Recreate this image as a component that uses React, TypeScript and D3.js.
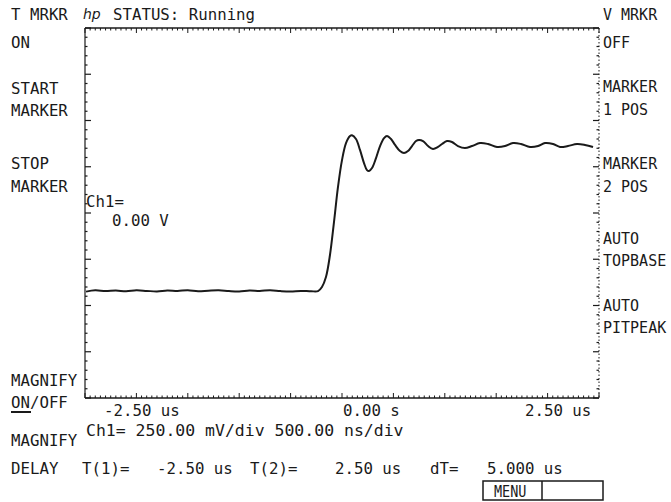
import React from "react";
import * as d3 from "d3";

// Time in microseconds, voltage in volts (Ch1, 250 mV/div, 500 ns/div)
const timeUs: number[] = [
  -2.49, -2.4, -2.3, -2.2, -2.1, -2.0, -1.9, -1.8, -1.7, -1.6, -1.5, -1.4, -1.3, -1.2, -1.1, -1.0,
  -0.9, -0.8, -0.7, -0.6, -0.5, -0.4, -0.3, -0.233, -0.195, -0.156, -0.117, -0.078, -0.039, 0.0,
  0.039, 0.078, 0.097, 0.136, 0.175, 0.214, 0.243, 0.263, 0.292, 0.331, 0.37, 0.409, 0.438, 0.477,
  0.516, 0.564, 0.603, 0.642, 0.681, 0.72, 0.749, 0.788, 0.837, 0.885, 0.934, 0.973, 1.021, 1.07,
  1.128, 1.196, 1.265, 1.342, 1.42, 1.508, 1.586, 1.663, 1.741, 1.829, 1.907, 1.975, 2.053, 2.121,
  2.198, 2.286, 2.364, 2.442,
];
const voltsV: number[] = [
  -0.425, -0.418, -0.422, -0.419, -0.423, -0.418, -0.421, -0.424, -0.419, -0.421, -0.418, -0.423,
  -0.42, -0.418, -0.422, -0.424, -0.419, -0.421, -0.418, -0.422, -0.424, -0.421, -0.423, -0.422,
  -0.4, -0.346, -0.227, -0.049, 0.141, 0.286, 0.378, 0.416, 0.42, 0.4, 0.341, 0.27, 0.232, 0.227,
  0.243, 0.297, 0.362, 0.405, 0.416, 0.4, 0.368, 0.335, 0.324, 0.335, 0.362, 0.389, 0.395, 0.389,
  0.362, 0.346, 0.357, 0.373, 0.389, 0.384, 0.362, 0.351, 0.362, 0.378, 0.373, 0.357, 0.362, 0.378,
  0.373, 0.357, 0.362, 0.378, 0.373, 0.357, 0.362, 0.373, 0.368, 0.357,
];

const xTickLabels: string[] = ["-2.50 us", "0.00 s", "2.50 us"];
const leftMenu: string[] = ["T MRKR", "ON", "START", "MARKER", "STOP", "MARKER", "MAGNIFY", "ON/OFF", "MAGNIFY", "DELAY"];
const rightMenu: string[] = ["V MRKR", "OFF", "MARKER", "1 POS", "MARKER", "2 POS", "AUTO", "TOPBASE", "AUTO", "PITPEAK"];
const statusText = "STATUS: Running";
const scaleText = "Ch1= 250.00 mV/div 500.00 ns/div";
const markerTexts: string[] = ["T(1)=", "-2.50 us", "T(2)=", "2.50 us", "dT=", "5.000 us"];
const chText: string[] = ["Ch1=", "0.00 V"];

const W = 671;
const H = 502;
const L = 85, R = 599, T = 28, B = 398;
const FONT = "'DejaVu Sans Mono', monospace";
const INK = "#1a1a1a";

const leftY = [20, 48, 94, 116, 169, 192, 386, 408, 446, 474];
const rightY = [20, 48, 92, 115, 169, 192, 244, 266, 311, 333];

function Txt({ x, y, children, size = 15, sx = 1.05 }: any) {
  return (
    <text
      transform={`translate(${x},${y}) scale(${sx},1)`}
      fontFamily={FONT}
      fontSize={size}
      fill={INK}
    >
      {children}
    </text>
  );
}

export default function App() {
  const x = d3.scaleLinear().domain([-2.5, 2.5]).range([L, R]);
  const y = d3.scaleLinear().domain([-1, 1]).range([B, T]);

  const pts: [number, number][] = timeUs.map((t, i) => [t, voltsV[i]]);
  const line = d3
    .line<[number, number]>()
    .x((d) => x(d[0]))
    .y((d) => y(d[1]))
    .curve(d3.curveCatmullRom.alpha(0.5));

  const xMinor = d3.range(-2.5, 2.5001, 0.05);
  const yMinor = d3.range(-1, 1.0001, 0.05);
  const isMajorX = (t: number) => Math.abs(t / 0.5 - Math.round(t / 0.5)) < 1e-6;
  const isMajorY = (v: number) => Math.abs(v / 0.25 - Math.round(v / 0.25)) < 1e-6;
  const isMidY = (v: number) => Math.abs(v / 0.125 - Math.round(v / 0.125)) < 1e-6;

  return (
    <svg
      width={W}
      height={H}
      style={{ position: "absolute", left: 0, top: 0, background: "#fff" }}
    >
      <rect width={W} height={H} fill="#fff" />
      {/* frame */}
      <line x1={L} x2={R} y1={T} y2={T} stroke={INK} strokeWidth={1.3} />
      <line x1={L} x2={R} y1={B} y2={B} stroke={INK} strokeWidth={1.3} />
      <line x1={L} x2={L} y1={T} y2={B} stroke={INK} strokeWidth={1.2} />
      <line x1={R} x2={R} y1={T} y2={B} stroke={INK} strokeWidth={1} strokeDasharray="1.5 2" />
      {/* top & bottom ticks */}
      {xMinor.map((t, i) => {
        const len = isMajorX(t) ? 5 : 2.5;
        return (
          <g key={"xt" + i}>
            <line x1={x(t)} x2={x(t)} y1={T} y2={T + len} stroke={INK} strokeWidth={1} />
            <line x1={x(t)} x2={x(t)} y1={B} y2={B - len} stroke={INK} strokeWidth={1} />
          </g>
        );
      })}
      {/* left & right ticks */}
      {yMinor.map((v, i) => {
        const len = isMajorY(v) ? 6 : isMidY(v) ? 4 : 2.5;
        return (
          <g key={"yt" + i}>
            <line x1={L} x2={L + len} y1={y(v)} y2={y(v)} stroke={INK} strokeWidth={1.2} />
            <line x1={R} x2={R - len} y1={y(v)} y2={y(v)} stroke={INK} strokeWidth={1.2} />
          </g>
        );
      })}
      {/* waveform */}
      <path d={line(pts) || ""} fill="none" stroke={INK} strokeWidth={2} strokeLinejoin="round" />

      {/* header */}
      <text x={83} y={19} fontFamily="'DejaVu Sans', sans-serif" fontStyle="italic" fontSize={14} fill={INK}>
        hp
      </text>
      <Txt x={113} y={20}>{statusText}</Txt>

      {/* left softkey labels */}
      {leftMenu.map((s, i) => (
        <Txt key={"l" + i} x={11} y={leftY[i]}>{s}</Txt>
      ))}
      <line x1={11} x2={31} y1={412} y2={412} stroke={INK} strokeWidth={2} />

      {/* right softkey labels */}
      {rightMenu.map((s, i) => (
        <Txt key={"r" + i} x={603} y={rightY[i]} sx={1.0}>{s}</Txt>
      ))}

      {/* channel readout */}
      <Txt x={86} y={207}>{chText[0]}</Txt>
      <Txt x={112} y={226}>{chText[1]}</Txt>

      {/* x labels */}
      <Txt x={104} y={416}>{xTickLabels[0]}</Txt>
      <Txt x={343} y={416}>{xTickLabels[1]}</Txt>
      <Txt x={525} y={416}>{xTickLabels[2]}</Txt>
      <Txt x={86} y={436} sx={1.1}>{scaleText}</Txt>

      {/* marker readout */}
      <Txt x={82} y={474}>{markerTexts[0]}</Txt>
      <Txt x={157} y={474}>{markerTexts[1]}</Txt>
      <Txt x={250} y={474}>{markerTexts[2]}</Txt>
      <Txt x={335} y={474}>{markerTexts[3]}</Txt>
      <Txt x={430} y={474}>{markerTexts[4]}</Txt>
      <Txt x={487} y={474}>{markerTexts[5]}</Txt>

      {/* MENU box */}
      <rect x={483} y={481} width={120} height={19} fill="none" stroke={INK} strokeWidth={1.5} />
      <line x1={542} x2={542} y1={481} y2={500} stroke={INK} strokeWidth={1.5} />
      <Txt x={494} y={497} size={15} sx={0.9}>MENU</Txt>
    </svg>
  );
}
